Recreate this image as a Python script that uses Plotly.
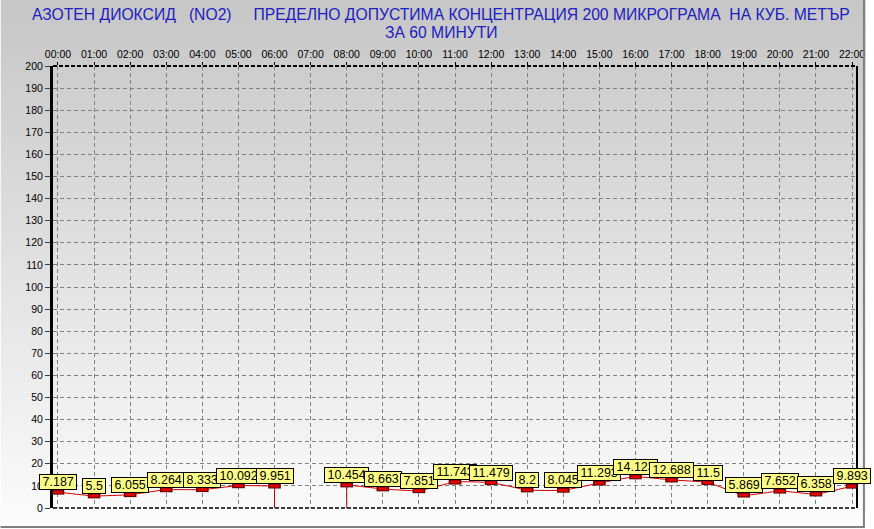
import base64
import plotly.graph_objects as go

# ---------------- data ----------------
hours = ["00:00", "01:00", "02:00", "03:00", "04:00", "05:00", "06:00", "07:00",
         "08:00", "09:00", "10:00", "11:00", "12:00", "13:00", "14:00", "15:00",
         "16:00", "17:00", "18:00", "19:00", "20:00", "21:00", "22:00"]
no2_values = [7.187, 5.5, 6.055, 8.264, 8.333, 10.092, 9.951, None,
              10.454, 8.663, 7.851, 11.743, 11.479, 8.2, 8.045, 11.293,
              14.123, 12.688, 11.5, 5.869, 7.652, 6.358, 9.893]
y_ticks = list(range(0, 201, 10))

title_line1 = ("АЗОТЕН ДИОКСИД\u00a0\u00a0\u00a0(NO2)\u00a0\u00a0\u00a0\u00a0\u00a0ПРЕДЕЛНО ДОПУСТИМА "
               "КОНЦЕНТРАЦИЯ 200 МИКРОГРАМА\u00a0\u00a0НА КУБ. МЕТЪР")
title_line2 = "ЗА 60 МИНУТИ"

# ---------------- layout geometry ----------------
W, H = 874, 529
ML, MR, MT, MB = 53, 9, 66, 21
PW, PH = W - ML - MR, H - MT - MB
px_per_hour = (860 - 58) / 22.0
pad = (58 - ML) / px_per_hour
x_range = [-pad, (len(hours) - 1) + (PW / px_per_hour - (len(hours) - 1) - pad)]


def py(pix):
    """page pixel y -> paper y"""
    return (H - MB - pix) / PH


def px(pix):
    return (pix - ML) / PW


FONT = "Arial, 'Liberation Sans', sans-serif"
x_idx = list(range(len(hours)))

fig = go.Figure()

# main smoothed line
fig.add_trace(go.Scatter(
    x=x_idx, y=no2_values, mode="lines",
    line=dict(color="#d00000", width=1, shape="spline", smoothing=0.5),
    connectgaps=False, hoverinfo="skip", showlegend=False))

# drop lines to zero around missing values
for i, v in enumerate(no2_values):
    if v is None:
        if i - 1 >= 0 and no2_values[i - 1] is not None:
            fig.add_trace(go.Scatter(x=[i - 1, i - 1], y=[no2_values[i - 1], 0], mode="lines",
                                     line=dict(color="#c00000", width=1),
                                     hoverinfo="skip", showlegend=False))
        if i + 1 < len(no2_values) and no2_values[i + 1] is not None:
            fig.add_trace(go.Scatter(x=[i + 1, i + 1], y=[0, no2_values[i + 1]], mode="lines",
                                     line=dict(color="#c00000", width=1),
                                     hoverinfo="skip", showlegend=False))

# rectangular markers (outline + fill)
pts_x = [i for i, v in enumerate(no2_values) if v is not None]
pts_y = [v for v in no2_values if v is not None]
fig.add_trace(go.Scatter(
    x=pts_x, y=pts_y, mode="markers",
    marker=dict(symbol="line-ew", size=9, line=dict(color="#600000", width=5)),
    hoverinfo="skip", showlegend=False))
fig.add_trace(go.Scatter(
    x=pts_x, y=pts_y, mode="markers",
    marker=dict(symbol="line-ew", size=7, line=dict(color="#e00000", width=3)),
    hoverinfo="skip", showlegend=False))

# value labels
for xi, yv in zip(pts_x, pts_y):
    fig.add_annotation(
        x=xi, y=yv, xref="x", yref="y", text="\u2009" + str(yv) + "\u2009", showarrow=False,
        xanchor="center", yanchor="bottom", yshift=2,
        font=dict(family=FONT, size=12.5, color="black"),
        bgcolor="#ffff88", bordercolor="black", borderwidth=1, borderpad=0)

# title (two centred lines)
fig.add_annotation(x=px(445), y=py(15), xref="paper", yref="paper", text=title_line1,
                   showarrow=False, xanchor="center", yanchor="middle",
                   font=dict(family=FONT, size=15.7, color="#2020c0"))
fig.add_annotation(x=px(445), y=py(32), xref="paper", yref="paper", text=title_line2,
                   showarrow=False, xanchor="center", yanchor="middle",
                   font=dict(family=FONT, size=15.7, color="#2020c0"))

# gradient background image (SVG)
svg = (f'<svg xmlns="http://www.w3.org/2000/svg" width="{W}" height="{H}" preserveAspectRatio="none">'
       '<defs><linearGradient id="g" x1="0" y1="0" x2="0" y2="1">'
       '<stop offset="0" stop-color="#c6c6c6"/><stop offset="1" stop-color="#fcfcfc"/>'
       '</linearGradient></defs>'
       f'<rect width="{W}" height="{H}" fill="url(#g)"/></svg>')
svg_uri = "data:image/svg+xml;base64," + base64.b64encode(svg.encode()).decode()

fig.add_layout_image(dict(
    source=svg_uri, xref="paper", yref="paper",
    x=-ML / PW, y=1 + MT / PH, sizex=W / PW, sizey=H / PH,
    xanchor="left", yanchor="top", sizing="stretch", layer="below"))

shapes = [
    dict(type="line", xref="paper", yref="paper", x0=0, x1=1, y0=1, y1=1,
         line=dict(color="black", width=2, dash="4px,2px")),
    dict(type="line", xref="paper", yref="paper", x0=0, x1=1, y0=0, y1=0,
         line=dict(color="black", width=1.5, dash="4px,2px")),
    dict(type="line", xref="paper", yref="paper", x0=1, x1=1, y0=0, y1=1,
         line=dict(color="black", width=2)),
    dict(type="line", xref="paper", yref="paper", x0=px(0), x1=px(873),
         y0=py(527), y1=py(527), line=dict(color="#808080", width=2)),
    dict(type="line", xref="paper", yref="paper", x0=px(872), x1=px(872),
         y0=py(527), y1=py(0), line=dict(color="#808080", width=2)),
]

fig.update_layout(
    width=W, height=H,
    margin=dict(l=ML, r=MR, t=MT, b=MB, pad=0),
    paper_bgcolor="rgba(0,0,0,0)", plot_bgcolor="rgba(0,0,0,0)",
    font=dict(family=FONT, size=10, color="black"),
    shapes=shapes,
    showlegend=False,
    hovermode=False,
)

fig.update_xaxes(
    range=x_range, side="top", tickmode="array", tickvals=x_idx, ticktext=hours,
    showgrid=True, gridcolor="#808080", gridwidth=1, griddash="4px,3px",
    zeroline=False, showline=False, ticks="outside", ticklen=3, tickcolor="black",
    tickfont=dict(family=FONT, size=10.5, color="black"), fixedrange=True)

fig.update_yaxes(
    range=[0, 200], tickmode="array", tickvals=y_ticks,
    showgrid=True, gridcolor="#808080", gridwidth=1, griddash="4px,3px",
    zeroline=False, showline=True, linecolor="black", linewidth=3,
    ticks="outside", ticklen=5, tickcolor="#404040",
    tickfont=dict(family=FONT, size=10.5, color="black"), fixedrange=True)

fig.write_html("out.html", config={"displayModeBar": False},
               post_script="document.body.style.margin='0';document.body.style.overflow='hidden';")
